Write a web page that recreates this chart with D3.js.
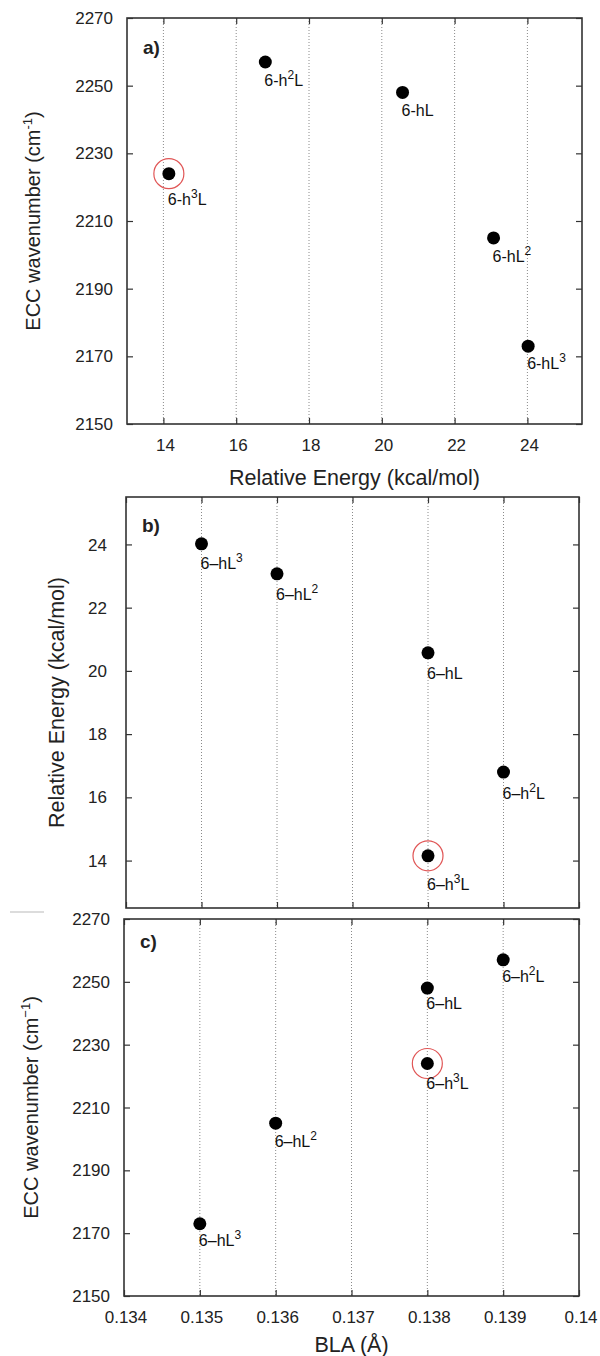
<!DOCTYPE html>
<html>
<head>
<meta charset="utf-8">
<script src="https://cdn.jsdelivr.net/npm/d3@7"></script>
<style>
  body { margin: 0; background: #fff; }
  svg { display: block; font-family: "Liberation Sans", Arial, sans-serif; }
</style>
</head>
<body>
<script>

// conformers, same order in every panel
var names = [["6-h", "3", "L"], ["6-h", "2", "L"], ["6-hL", "", ""], ["6-hL", "2", ""], ["6-hL", "3", ""]];
var energy = [14.15, 16.8, 20.57, 23.07, 24.02];     // kcal/mol
var ecc = [2224, 2257, 2248, 2205, 2173];            // cm-1
var bla = [0.138, 0.139, 0.138, 0.136, 0.135];       // Angstrom
var highlight = 0;

// tick values
var energyTicks = [14, 16, 18, 20, 22, 24];
var eccTicks = [2150, 2170, 2190, 2210, 2230, 2250, 2270];
var blaTicks = [0.134, 0.135, 0.136, 0.137, 0.138, 0.139, 0.14];

var svg = d3.select("body").append("svg")
    .attr("width", 600)
    .attr("height", 1356);

// stray grey line from the original figure
svg.append("line")
    .attr("x1", 10).attr("x2", 44)
    .attr("y1", 912).attr("y2", 912)
    .attr("stroke", "#d0d0d0")
    .attr("stroke-width", 1.5);

function panel(p) {

    var x = d3.scaleLinear().domain(p.xDomain).range([p.left, p.right]);
    var y = d3.scaleLinear().domain(p.yDomain).range([p.bottom, p.top]);
    var g = svg.append("g");

    // dotted vertical grid
    g.selectAll(".grid")
        .data(p.xTicks.filter(function(d) { return d > p.xDomain[0] && d < p.xDomain[1]; }))
        .enter().append("line")
        .attr("x1", function(d) { return x(d); })
        .attr("x2", function(d) { return x(d); })
        .attr("y1", p.top).attr("y2", p.bottom)
        .attr("stroke", "#8a8a8a")
        .attr("stroke-width", 1)
        .attr("stroke-dasharray", "1,2");

    // axes with inward ticks on all four sides
    var fmtX = p.xFormat;
    g.append("g").attr("transform", "translate(0," + p.bottom + ")")
        .call(d3.axisTop(x).tickValues(p.xTicks).tickSize(6).tickFormat(""));
    g.append("g").attr("transform", "translate(0," + p.top + ")")
        .call(d3.axisBottom(x).tickValues(p.xTicks).tickSize(6).tickFormat(""));
    g.append("g").attr("transform", "translate(" + p.left + ",0)")
        .call(d3.axisRight(y).tickValues(p.yTicks).tickSize(6).tickFormat(""));
    g.append("g").attr("transform", "translate(" + p.right + ",0)")
        .call(d3.axisLeft(y).tickValues(p.yTicks).tickSize(6).tickFormat(""));
    g.selectAll(".domain").remove();
    g.selectAll(".tick line").attr("stroke", "#333").attr("stroke-width", 1.2);

    // frame
    g.append("rect")
        .attr("x", p.left).attr("y", p.top)
        .attr("width", p.right - p.left).attr("height", p.bottom - p.top)
        .attr("fill", "none").attr("stroke", "#333").attr("stroke-width", 1.6);

    // y tick labels
    g.selectAll(".ylab")
        .data(p.yTicks)
        .enter().append("text")
        .attr("x", p.left - p.yLabGap)
        .attr("y", function(d) { return y(d); })
        .attr("dy", "0.36em")
        .attr("text-anchor", "end")
        .attr("font-size", "17px")
        .attr("fill", "#222")
        .text(function(d) { return d; });

    // x tick labels
    if (fmtX) {
        g.selectAll(".xlab")
            .data(p.xTicks)
            .enter().append("text")
            .attr("x", function(d) { return x(d) + 2; })
            .attr("y", p.bottom + 27)
            .attr("text-anchor", "middle")
            .attr("font-size", "17px")
            .attr("fill", "#222")
            .text(fmtX);
    }

    // red ring round the lowest energy conformer
    g.append("circle")
        .attr("cx", x(p.xs[highlight]))
        .attr("cy", y(p.ys[highlight]))
        .attr("r", 15)
        .attr("fill", "none")
        .attr("stroke", "#e05555")
        .attr("stroke-width", 1.2);

    // data points
    g.selectAll(".pt")
        .data(names)
        .enter().append("circle")
        .attr("cx", function(d, i) { return x(p.xs[i]); })
        .attr("cy", function(d, i) { return y(p.ys[i]); })
        .attr("r", 6.5)
        .attr("fill", "#000");

    // point names
    var lab = g.selectAll(".name")
        .data(names)
        .enter().append("text")
        .attr("x", function(d, i) { return x(p.xs[i]) - 1; })
        .attr("y", function(d, i) { return y(p.ys[i]) + p.labelDy[i]; })
        .attr("font-size", "16px")
        .attr("fill", "#111");
    lab.append("tspan").text(function(d) { return d[0].replace("-", p.dash); });
    lab.append("tspan")
        .attr("dy", -7)
        .attr("font-size", "12px")
        .text(function(d) { return d[1]; });
    lab.append("tspan")
        .attr("dy", function(d) { return d[1] ? 7 : 0; })
        .text(function(d) { return d[2]; });

    // panel letter
    g.append("text")
        .attr("x", p.left + 16)
        .attr("y", p.letterY)
        .attr("font-size", "19px")
        .attr("font-weight", "bold")
        .attr("fill", "#222")
        .text(p.letter);

    // y title
    var yt = g.append("text")
        .attr("transform", "translate(" + p.yTitleX + "," + ((p.top + p.bottom) / 2) + ") rotate(-90)")
        .attr("text-anchor", "middle")
        .attr("font-size", p.yTitleSize)
        .attr("fill", "#222");
    yt.append("tspan").text(p.yTitle[0]);
    if (p.yTitle[1]) {
        yt.append("tspan").attr("dy", -8).attr("font-size", "13px").text(p.yTitle[1]);
        yt.append("tspan").attr("dy", 8).text(p.yTitle[2]);
    }

    // x title
    if (p.xTitle) {
        g.append("text")
            .attr("x", (p.left + p.right) / 2)
            .attr("y", p.xTitleY)
            .attr("text-anchor", "middle")
            .attr("font-size", "21.5px")
            .attr("fill", "#222")
            .text(p.xTitle);
    }
}

// a) ECC wavenumber against relative energy
panel({
    letter: "a)", letterY: 54,
    left: 127, right: 582, top: 18, bottom: 424,
    xDomain: [13, 25.5], yDomain: [2150, 2270],
    xTicks: energyTicks, yTicks: eccTicks,
    xs: energy, ys: ecc,
    xFormat: function(d) { return d; },
    yLabGap: 14,
    dash: "-",
    labelDy: [31, 24, 24, 24, 23],
    yTitle: ["ECC wavenumber (cm", "-1", ")"], yTitleX: 40, yTitleSize: "20px",
    xTitle: "Relative Energy (kcal/mol)", xTitleY: 485
});

// b) relative energy against BLA
panel({
    letter: "b)", letterY: 532,
    left: 126, right: 579, top: 497, bottom: 908,
    xDomain: [0.134, 0.14], yDomain: [12.5, 25.5],
    xTicks: blaTicks, yTicks: energyTicks,
    xs: bla, ys: energy,
    xFormat: null,
    yLabGap: 19,
    dash: "\u2013",
    labelDy: [34, 27, 26, 26, 25],
    yTitle: ["Relative Energy (kcal/mol)"], yTitleX: 64, yTitleSize: "21.5px",
    xTitle: null
});

// c) ECC wavenumber against BLA
panel({
    letter: "c)", letterY: 948,
    left: 124, right: 579, top: 919, bottom: 1296,
    xDomain: [0.134, 0.14], yDomain: [2150, 2270],
    xTicks: blaTicks, yTicks: eccTicks,
    xs: bla, ys: ecc,
    xFormat: function(d) { return d; },
    yLabGap: 14,
    dash: "\u2013",
    labelDy: [25, 22, 21, 24, 22],
    yTitle: ["ECC wavenumber (cm", "\u22121", ")"], yTitleX: 38, yTitleSize: "20px",
    xTitle: "BLA (\u00c5)", xTitleY: 1352
});

</script>
</body>
</html>
